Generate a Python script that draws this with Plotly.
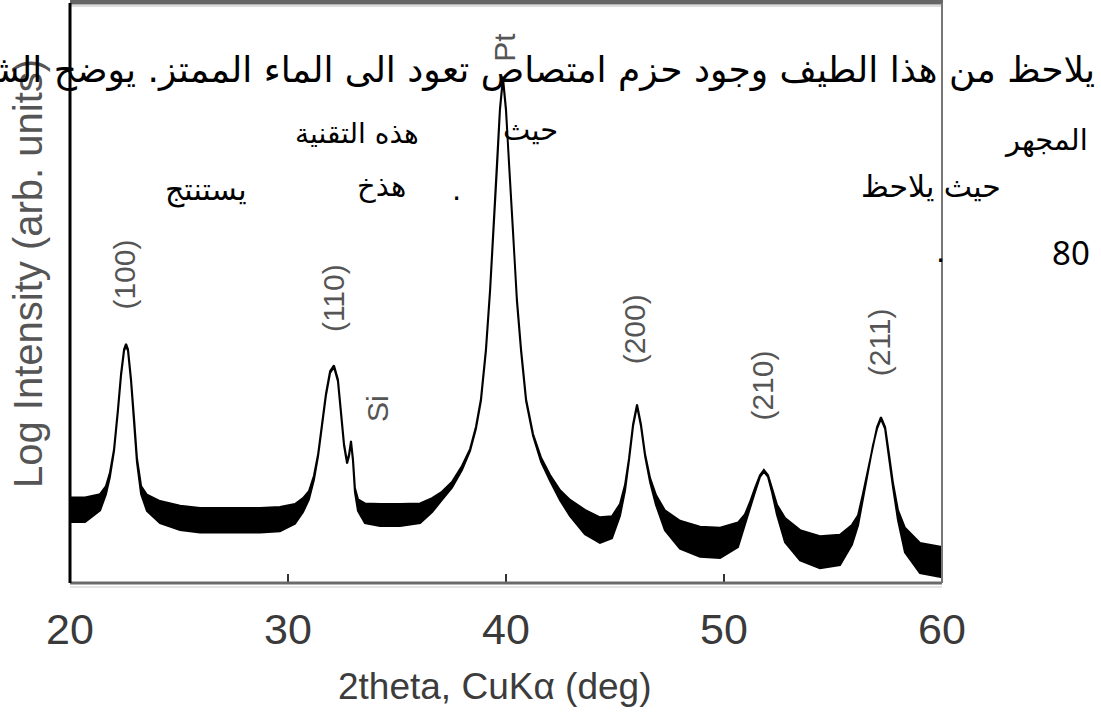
import plotly.graph_objects as go

# ---- data (2theta in deg, log intensity in arb. units 0-100) ----
two_theta = [20.00, 20.69, 21.38, 21.65, 21.83, 22.02, 22.20, 22.34, 22.48, 22.57, 22.66, 22.80, 22.94, 23.07,
             23.26, 23.53, 24.13, 25.05, 25.96, 26.88, 27.80, 28.72, 29.63, 30.32, 30.69, 30.96, 31.19, 31.38,
             31.56, 31.74, 31.93, 32.11, 32.29, 32.43, 32.57, 32.71, 32.80, 32.89, 32.98, 33.07, 33.21, 33.53,
             34.22, 35.14, 36.06, 36.61, 37.06, 37.52, 37.98, 38.35, 38.62, 38.85, 39.08, 39.27, 39.45, 39.59,
             39.72, 39.86, 40.00, 40.14, 40.32, 40.50, 40.69, 40.92, 41.24, 41.61, 42.02, 42.48, 42.94, 43.62,
             44.31, 44.86, 45.23, 45.46, 45.64, 45.83, 46.01, 46.19, 46.38, 46.61, 46.88, 47.29, 47.98, 48.90,
             49.82, 50.64, 50.96, 51.19, 51.42, 51.65, 51.83, 52.02, 52.20, 52.43, 52.80, 53.49, 54.40, 55.32,
             55.87, 56.15, 56.38, 56.61, 56.83, 57.02, 57.20, 57.39, 57.57, 57.75, 57.98, 58.30, 58.99, 60.00]

log_intensity = [12.6, 12.6, 13.9, 16.0, 18.6, 22.9, 29.8, 35.8, 40.1, 41.0, 40.1, 34.9, 28.1, 21.2,
                 16.0, 13.8, 12.2, 11.2, 10.8, 10.8, 10.8, 10.8, 11.0, 11.9, 13.4, 15.1, 18.1, 22.0,
                 27.2, 32.4, 36.3, 37.3, 34.9, 29.8, 23.8, 20.7, 22.0, 24.3, 21.2, 16.0, 13.4, 12.0,
                 11.7, 11.7, 12.0, 13.4, 15.0, 16.9, 19.8, 22.9, 26.7, 31.5, 40.1, 50.4, 62.5, 71.9,
                 81.4, 86.9, 81.4, 71.9, 60.8, 48.7, 40.1, 31.5, 25.5, 21.2, 18.1, 15.1, 12.9, 10.5,
                 9.1, 9.6, 12.6, 16.4, 21.2, 27.2, 30.6, 27.2, 22.0, 17.7, 14.3, 10.8, 8.3, 7.1,
                 6.9, 8.3, 10.8, 13.4, 16.0, 18.4, 19.3, 18.4, 16.0, 12.6, 9.1, 6.5, 5.3, 5.7,
                 8.3, 10.8, 15.1, 19.4, 23.8, 26.7, 28.4, 26.7, 22.0, 16.9, 11.7, 7.4, 4.3, 3.6]

# half-width of the noise band around the curve
noise = [2.1, 2.1, 1.4, 0.7, 0.35, 0.15, 0.15, 0.15, 0.15, 0.15, 0.15, 0.15, 0.15, 0.35,
         0.7, 1.4, 1.9, 2.1, 2.1, 2.1, 2.1, 2.1, 2.1, 1.7, 1.2, 0.7, 0.35, 0.15,
         0.15, 0.15, 0.15, 0.15, 0.15, 0.15, 0.15, 0.15, 0.15, 0.15, 0.15, 0.35, 1.0, 1.7,
         1.9, 1.9, 1.7, 1.2, 0.7, 0.5, 0.35, 0.15, 0.15, 0.15, 0.15, 0.15, 0.15, 0.15,
         0.15, 0.15, 0.15, 0.15, 0.15, 0.15, 0.15, 0.15, 0.15, 0.35, 0.5, 0.85, 1.4, 2.1,
         2.2, 1.9, 1.0, 0.5, 0.15, 0.15, 0.15, 0.15, 0.15, 0.35, 0.85, 1.7, 2.4, 2.6,
         2.6, 2.1, 1.0, 0.5, 0.35, 0.15, 0.15, 0.15, 0.35, 0.85, 2.1, 2.6, 2.75, 2.6,
         1.7, 0.85, 0.35, 0.15, 0.15, 0.15, 0.15, 0.15, 0.15, 0.35, 0.85, 2.1, 2.6, 2.6]

x_ticks = [20, 30, 40, 50, 60]
x_title = "2theta, CuKα (deg)"
y_title = "Log Intensity (arb. units)"

peak_labels = ["(100)", "(110)", "Si", "Pt", "(200)", "(210)", "(211)"]
peak_label_x = [22.50, 32.10, 34.10, 39.95, 45.90, 51.75, 57.15]
peak_label_y = [53.0, 49.0, 30.0, 92.3, 43.6, 34.0, 41.4]

# overlaid Arabic document text: (text, x px, y px, anchor, size)
doc_lines = [
    ("يلاحظ من هذا الطيف وجود حزم امتصاص تعود الى الماء الممتز. يوضح الشكل", 1097, 70, "right", 36),
    ("المجهر", 1090, 140, "right", 29),
    ("حيث", 530, 130, "center", 29),
    ("هذه التقنية", 357, 133, "center", 28),
    ("حيث يلاحظ", 1003, 186, "right", 30),
    (".", 456, 190, "center", 29),
    ("هذخ", 381, 186, "center", 29),
    ("يستنتج", 206, 190, "center", 30),
    (".", 940, 252, "center", 29),
]
doc_number = ("80", 1071, 253)

# ---- figure geometry ----
W, H = 1101, 717
L, R, T, B = 70, 942, 3, 583


def px_x(px):
    return (px - L) / (R - L)


def px_y(py):
    return (B - py) / (B - T)


upper = [c + n for c, n in zip(log_intensity, noise)]
lower = [c - n for c, n in zip(log_intensity, noise)]

fig = go.Figure()
fig.add_trace(go.Scatter(
    x=two_theta + two_theta[::-1],
    y=upper + lower[::-1],
    mode="lines", fill="toself", fillcolor="#000000",
    line=dict(color="#000000", width=2), hoverinfo="skip", showlegend=False))

annotations = []
for t, xv, yv in zip(peak_labels, peak_label_x, peak_label_y):
    annotations.append(dict(x=xv, y=yv, xref="x", yref="y", text=t, showarrow=False,
                            xanchor="center", yanchor="middle", textangle=-90,
                            font=dict(family="Liberation Sans", size=30, color="#555555")))

annotations.append(dict(x=px_x(494), y=px_y(686), xref="paper", yref="paper", text=x_title,
                        showarrow=False, xanchor="center", yanchor="middle",
                        font=dict(family="Liberation Sans", size=37, color="#3c3c3c")))
annotations.append(dict(x=px_x(28), y=px_y(274), xref="paper", yref="paper", text=y_title,
                        showarrow=False, textangle=-90, xanchor="center", yanchor="middle",
                        font=dict(family="Liberation Sans", size=40, color="#555555")))

for text, px, py, anchor, size in doc_lines:
    annotations.append(dict(x=px_x(px), y=px_y(py), xref="paper", yref="paper", text=text,
                            showarrow=False, xanchor=anchor, yanchor="middle",
                            font=dict(family="DejaVu Sans", size=size, color="#000000")))
annotations.append(dict(x=px_x(doc_number[1]), y=px_y(doc_number[2]), xref="paper", yref="paper",
                        text=doc_number[0], showarrow=False, xanchor="center", yanchor="middle",
                        font=dict(family="Noto Sans", size=33, color="#000000")))

shapes = [
    # top bar
    dict(type="rect", xref="paper", yref="paper", x0=0, x1=px_x(943), y0=px_y(4.5), y1=px_y(-1),
         fillcolor="#666666", line=dict(width=0), layer="above"),
    dict(type="line", xref="paper", yref="paper", x0=0, x1=1, y0=px_y(6), y1=px_y(6),
         line=dict(color="#dddddd", width=2), layer="above"),
    # bottom axis
    dict(type="line", xref="paper", yref="paper", x0=0, x1=1, y0=0, y1=0,
         line=dict(color="#6a6a6a", width=3), layer="above"),
    dict(type="line", xref="paper", yref="paper", x0=0, x1=1, y0=px_y(587), y1=px_y(587),
         line=dict(color="#e4e4e4", width=2), layer="above"),
    # right border
    dict(type="line", xref="paper", yref="paper", x0=1, x1=1, y0=0, y1=1,
         line=dict(color="#777777", width=2), layer="above"),
    # left axis
    dict(type="line", xref="paper", yref="paper", x0=0, x1=0, y0=0, y1=1,
         line=dict(color="#000000", width=3), layer="above"),
]

fig.update_layout(
    width=W, height=H, autosize=False,
    margin=dict(l=L, r=W - R, t=T, b=H - B, pad=0),
    paper_bgcolor="white", plot_bgcolor="white",
    showlegend=False,
    xaxis=dict(range=[20, 60], tickvals=x_ticks, ticks="inside", ticklen=9, tickwidth=2,
               tickcolor="#333333", showgrid=False, zeroline=False, showline=False,
               ticklabelstandoff=17,
               tickfont=dict(family="Liberation Sans", size=43, color="#3a3a3a")),
    yaxis=dict(range=[0, 99.83], showticklabels=False, ticks="", showgrid=False,
               zeroline=False, showline=False),
    annotations=annotations,
    shapes=shapes,
)

fig.write_html("out.html", config={"displayModeBar": False},
               post_script="document.body.style.margin='0px';document.body.style.overflow='hidden';")
